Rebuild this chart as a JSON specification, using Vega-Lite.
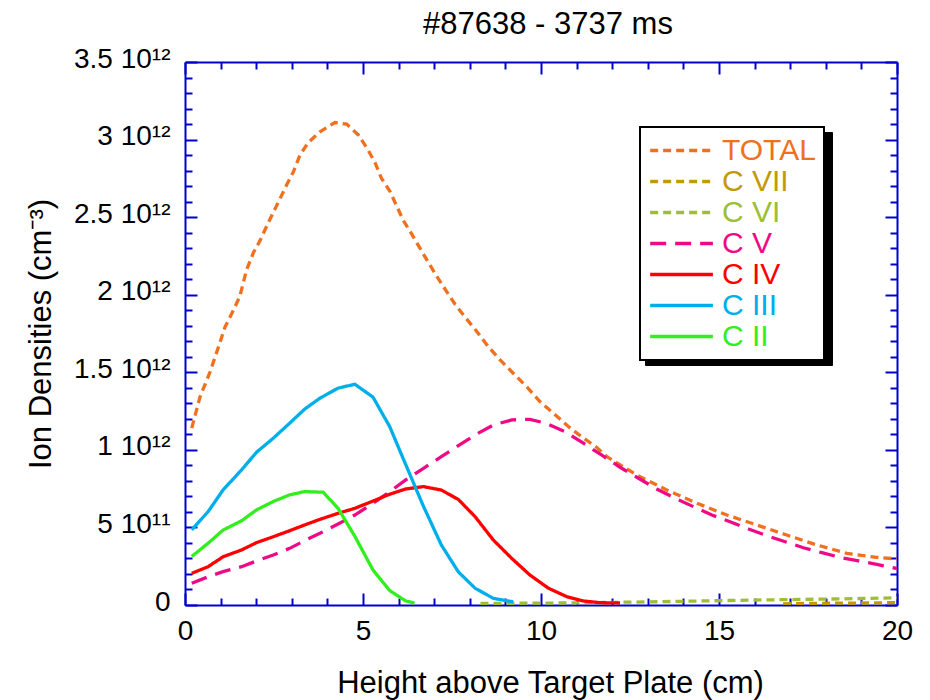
{
  "$schema": "https://vega.github.io/schema/vega-lite/v6.json",
  "width": 712,
  "height": 543,
  "autosize": {"type": "none"},
  "padding": {"left": 185, "top": 62, "right": 33, "bottom": 95},
  "title": {"text": "#87638 - 3737 ms", "frame": "group", "fontSize": 31, "font": "Liberation Sans", "fontWeight": "normal", "color": "black", "dx": 7, "offset": 4},
  "datasets": {
    "ions": [
      {"ion": "C VII", "x": 16.8, "n": 0.007e12}, {"ion": "C VII", "x": 17.5, "n": 0.010e12}, {"ion": "C VII", "x": 18.5, "n": 0.012e12}, {"ion": "C VII", "x": 19.5, "n": 0.014e12}, {"ion": "C VII", "x": 20, "n": 0.015e12},
      {"ion": "C VI", "x": 8.3, "n": 0.010e12}, {"ion": "C VI", "x": 9, "n": 0.011e12}, {"ion": "C VI", "x": 10, "n": 0.012e12}, {"ion": "C VI", "x": 11, "n": 0.014e12}, {"ion": "C VI", "x": 12, "n": 0.017e12}, {"ion": "C VI", "x": 13, "n": 0.020e12}, {"ion": "C VI", "x": 14, "n": 0.024e12}, {"ion": "C VI", "x": 15, "n": 0.028e12}, {"ion": "C VI", "x": 16, "n": 0.032e12}, {"ion": "C VI", "x": 17, "n": 0.035e12}, {"ion": "C VI", "x": 18, "n": 0.038e12}, {"ion": "C VI", "x": 19, "n": 0.042e12}, {"ion": "C VI", "x": 20, "n": 0.046e12},
      {"ion": "TOTAL", "x": 0.19, "n": 1.14e12}, {"ion": "TOTAL", "x": 0.42, "n": 1.34e12}, {"ion": "TOTAL", "x": 0.70, "n": 1.50e12}, {"ion": "TOTAL", "x": 0.98, "n": 1.69e12}, {"ion": "TOTAL", "x": 1.12, "n": 1.79e12}, {"ion": "TOTAL", "x": 1.36, "n": 1.90e12}, {"ion": "TOTAL", "x": 1.54, "n": 1.99e12}, {"ion": "TOTAL", "x": 1.73, "n": 2.16e12}, {"ion": "TOTAL", "x": 1.92, "n": 2.27e12}, {"ion": "TOTAL", "x": 2.11, "n": 2.35e12}, {"ion": "TOTAL", "x": 2.29, "n": 2.44e12}, {"ion": "TOTAL", "x": 2.48, "n": 2.53e12}, {"ion": "TOTAL", "x": 2.67, "n": 2.62e12}, {"ion": "TOTAL", "x": 2.86, "n": 2.71e12}, {"ion": "TOTAL", "x": 3.04, "n": 2.79e12}, {"ion": "TOTAL", "x": 3.23, "n": 2.90e12}, {"ion": "TOTAL", "x": 3.46, "n": 2.98e12}, {"ion": "TOTAL", "x": 3.79, "n": 3.05e12}, {"ion": "TOTAL", "x": 4.21, "n": 3.11e12}, {"ion": "TOTAL", "x": 4.54, "n": 3.10e12}, {"ion": "TOTAL", "x": 4.87, "n": 3.03e12}, {"ion": "TOTAL", "x": 5.15, "n": 2.93e12}, {"ion": "TOTAL", "x": 5.34, "n": 2.85e12}, {"ion": "TOTAL", "x": 5.52, "n": 2.75e12}, {"ion": "TOTAL", "x": 5.76, "n": 2.665e12}, {"ion": "TOTAL", "x": 5.95, "n": 2.57e12}, {"ion": "TOTAL", "x": 6.13, "n": 2.48e12}, {"ion": "TOTAL", "x": 6.37, "n": 2.39e12}, {"ion": "TOTAL", "x": 6.60, "n": 2.30e12}, {"ion": "TOTAL", "x": 6.83, "n": 2.21e12}, {"ion": "TOTAL", "x": 7.07, "n": 2.12e12}, {"ion": "TOTAL", "x": 7.35, "n": 2.02e12}, {"ion": "TOTAL", "x": 7.58, "n": 1.94e12}, {"ion": "TOTAL", "x": 7.87, "n": 1.855e12}, {"ion": "TOTAL", "x": 8.19, "n": 1.765e12}, {"ion": "TOTAL", "x": 8.52, "n": 1.665e12}, {"ion": "TOTAL", "x": 8.85, "n": 1.58e12}, {"ion": "TOTAL", "x": 9.22, "n": 1.494e12}, {"ion": "TOTAL", "x": 9.60, "n": 1.406e12}, {"ion": "TOTAL", "x": 9.97, "n": 1.311e12}, {"ion": "TOTAL", "x": 10.35, "n": 1.236e12}, {"ion": "TOTAL", "x": 10.77, "n": 1.15e12}, {"ion": "TOTAL", "x": 11.15, "n": 1.083e12}, {"ion": "TOTAL", "x": 11.56, "n": 1.017e12}, {"ion": "TOTAL", "x": 11.85, "n": 0.956e12}, {"ion": "TOTAL", "x": 12.69, "n": 0.838e12}, {"ion": "TOTAL", "x": 13.53, "n": 0.741e12}, {"ion": "TOTAL", "x": 14.38, "n": 0.656e12}, {"ion": "TOTAL", "x": 15.22, "n": 0.58e12}, {"ion": "TOTAL", "x": 16.06, "n": 0.516e12}, {"ion": "TOTAL", "x": 16.90, "n": 0.451e12}, {"ion": "TOTAL", "x": 17.75, "n": 0.387e12}, {"ion": "TOTAL", "x": 18.59, "n": 0.333e12}, {"ion": "TOTAL", "x": 19.43, "n": 0.307e12}, {"ion": "TOTAL", "x": 20.0, "n": 0.297e12},
      {"ion": "C V", "x": 0.19, "n": 0.14e12}, {"ion": "C V", "x": 0.65, "n": 0.182e12}, {"ion": "C V", "x": 1.07, "n": 0.215e12}, {"ion": "C V", "x": 1.59, "n": 0.247e12}, {"ion": "C V", "x": 2.01, "n": 0.284e12}, {"ion": "C V", "x": 2.48, "n": 0.322e12}, {"ion": "C V", "x": 2.94, "n": 0.365e12}, {"ion": "C V", "x": 3.36, "n": 0.415e12}, {"ion": "C V", "x": 3.79, "n": 0.462e12}, {"ion": "C V", "x": 4.30, "n": 0.522e12}, {"ion": "C V", "x": 4.77, "n": 0.58e12}, {"ion": "C V", "x": 5.28, "n": 0.656e12}, {"ion": "C V", "x": 5.75, "n": 0.73e12}, {"ion": "C V", "x": 6.20, "n": 0.806e12}, {"ion": "C V", "x": 6.70, "n": 0.881e12}, {"ion": "C V", "x": 7.20, "n": 0.956e12}, {"ion": "C V", "x": 7.70, "n": 1.03e12}, {"ion": "C V", "x": 8.15, "n": 1.096e12}, {"ion": "C V", "x": 8.66, "n": 1.16e12}, {"ion": "C V", "x": 9.18, "n": 1.193e12}, {"ion": "C V", "x": 9.69, "n": 1.197e12}, {"ion": "C V", "x": 10.16, "n": 1.17e12}, {"ion": "C V", "x": 10.68, "n": 1.117e12}, {"ion": "C V", "x": 11.19, "n": 1.043e12}, {"ion": "C V", "x": 11.70, "n": 0.967e12}, {"ion": "C V", "x": 12.22, "n": 0.888e12}, {"ion": "C V", "x": 12.74, "n": 0.817e12}, {"ion": "C V", "x": 13.25, "n": 0.748e12}, {"ion": "C V", "x": 13.77, "n": 0.688e12}, {"ion": "C V", "x": 14.28, "n": 0.634e12}, {"ion": "C V", "x": 14.80, "n": 0.58e12}, {"ion": "C V", "x": 15.31, "n": 0.537e12}, {"ion": "C V", "x": 15.83, "n": 0.49e12}, {"ion": "C V", "x": 16.34, "n": 0.447e12}, {"ion": "C V", "x": 16.86, "n": 0.408e12}, {"ion": "C V", "x": 17.37, "n": 0.369e12}, {"ion": "C V", "x": 17.89, "n": 0.337e12}, {"ion": "C V", "x": 18.40, "n": 0.307e12}, {"ion": "C V", "x": 18.92, "n": 0.284e12}, {"ion": "C V", "x": 19.43, "n": 0.262e12}, {"ion": "C V", "x": 20.0, "n": 0.235e12},
      {"ion": "C IV", "x": 0.19, "n": 0.204e12}, {"ion": "C IV", "x": 0.65, "n": 0.247e12}, {"ion": "C IV", "x": 1.07, "n": 0.311e12}, {"ion": "C IV", "x": 1.59, "n": 0.355e12}, {"ion": "C IV", "x": 2.01, "n": 0.402e12}, {"ion": "C IV", "x": 2.48, "n": 0.44e12}, {"ion": "C IV", "x": 2.94, "n": 0.479e12}, {"ion": "C IV", "x": 3.36, "n": 0.516e12}, {"ion": "C IV", "x": 3.79, "n": 0.552e12}, {"ion": "C IV", "x": 4.30, "n": 0.591e12}, {"ion": "C IV", "x": 4.77, "n": 0.623e12}, {"ion": "C IV", "x": 5.28, "n": 0.67e12}, {"ion": "C IV", "x": 5.75, "n": 0.714e12}, {"ion": "C IV", "x": 6.20, "n": 0.748e12}, {"ion": "C IV", "x": 6.70, "n": 0.763e12}, {"ion": "C IV", "x": 7.20, "n": 0.741e12}, {"ion": "C IV", "x": 7.68, "n": 0.68e12}, {"ion": "C IV", "x": 8.15, "n": 0.569e12}, {"ion": "C IV", "x": 8.66, "n": 0.419e12}, {"ion": "C IV", "x": 9.18, "n": 0.30e12}, {"ion": "C IV", "x": 9.69, "n": 0.193e12}, {"ion": "C IV", "x": 10.21, "n": 0.108e12}, {"ion": "C IV", "x": 10.72, "n": 0.054e12}, {"ion": "C IV", "x": 11.19, "n": 0.026e12}, {"ion": "C IV", "x": 11.66, "n": 0.015e12}, {"ion": "C IV", "x": 12.22, "n": 0.013e12},
      {"ion": "C III", "x": 0.19, "n": 0.484e12}, {"ion": "C III", "x": 0.65, "n": 0.602e12}, {"ion": "C III", "x": 1.07, "n": 0.742e12}, {"ion": "C III", "x": 1.59, "n": 0.871e12}, {"ion": "C III", "x": 2.01, "n": 0.985e12}, {"ion": "C III", "x": 2.48, "n": 1.075e12}, {"ion": "C III", "x": 2.94, "n": 1.172e12}, {"ion": "C III", "x": 3.36, "n": 1.262e12}, {"ion": "C III", "x": 3.79, "n": 1.333e12}, {"ion": "C III", "x": 4.30, "n": 1.398e12}, {"ion": "C III", "x": 4.77, "n": 1.423e12}, {"ion": "C III", "x": 5.28, "n": 1.34e12}, {"ion": "C III", "x": 5.75, "n": 1.15e12}, {"ion": "C III", "x": 6.20, "n": 0.905e12}, {"ion": "C III", "x": 6.70, "n": 0.635e12}, {"ion": "C III", "x": 7.20, "n": 0.387e12}, {"ion": "C III", "x": 7.68, "n": 0.213e12}, {"ion": "C III", "x": 8.15, "n": 0.108e12}, {"ion": "C III", "x": 8.66, "n": 0.043e12}, {"ion": "C III", "x": 9.22, "n": 0.02e12},
      {"ion": "C II", "x": 0.19, "n": 0.313e12}, {"ion": "C II", "x": 0.65, "n": 0.398e12}, {"ion": "C II", "x": 1.07, "n": 0.483e12}, {"ion": "C II", "x": 1.59, "n": 0.543e12}, {"ion": "C II", "x": 2.01, "n": 0.613e12}, {"ion": "C II", "x": 2.48, "n": 0.667e12}, {"ion": "C II", "x": 2.94, "n": 0.71e12}, {"ion": "C II", "x": 3.36, "n": 0.731e12}, {"ion": "C II", "x": 3.88, "n": 0.727e12}, {"ion": "C II", "x": 4.30, "n": 0.623e12}, {"ion": "C II", "x": 4.77, "n": 0.443e12}, {"ion": "C II", "x": 5.28, "n": 0.226e12}, {"ion": "C II", "x": 5.75, "n": 0.093e12}, {"ion": "C II", "x": 6.20, "n": 0.026e12}, {"ion": "C II", "x": 6.45, "n": 0.012e12}
    ]
  },
  "data": {"name": "ions"},
  "layer": [
    {
      "mark": {"type": "line", "strokeWidth": 3.3, "clip": true},
      "encoding": {
        "x": {
          "field": "x", "type": "quantitative",
          "scale": {"domain": [0, 20], "nice": false},
          "axis": {
            "orient": "bottom",
            "values": [0,1,2,3,4,5,6,7,8,9,10,11,12,13,14,15,16,17,18,19,20],
            "tickSize": {"condition": {"test": "datum.value % 5 === 0", "value": -12}, "value": -7},
            "tickColor": "#0000CC", "tickWidth": 2, "domainColor": "#0000CC", "domainWidth": 2,
            "labelExpr": "datum.value % 5 === 0 ? datum.label : ''",
            "labelFont": "Liberation Sans", "labelFontSize": 28, "labelColor": "black",
            "labelPadding": 24, "labelFlush": false, "labelOverlap": false, "grid": false,
            "title": "Height above Target Plate (cm)", "titleFont": "Liberation Sans", "titleFontSize": 31,
            "titleFontWeight": "normal", "titleColor": "black", "titlePadding": 18, "titleX": 365
          }
        },
        "y": {
          "field": "n", "type": "quantitative",
          "scale": {"domain": [0, 3500000000000], "nice": false},
          "axis": {
            "orient": "left",
            "values": [0,100000000000,200000000000,300000000000,400000000000,500000000000,600000000000,700000000000,800000000000,900000000000,1000000000000,1100000000000,1200000000000,1300000000000,1400000000000,1500000000000,1600000000000,1700000000000,1800000000000,1900000000000,2000000000000,2100000000000,2200000000000,2300000000000,2400000000000,2500000000000,2600000000000,2700000000000,2800000000000,2900000000000,3000000000000,3100000000000,3200000000000,3300000000000,3400000000000,3500000000000],
            "tickSize": {"condition": {"test": "datum.value % 500000000000 === 0", "value": -12}, "value": -7},
            "tickColor": "#0000CC", "tickWidth": 2, "domainColor": "#0000CC", "domainWidth": 2,
            "labelExpr": "datum.value === 0 ? '0' : datum.value === 500000000000 ? '5 10¹¹' : datum.value % 500000000000 === 0 ? (datum.value / 1000000000000) + ' 10¹²' : ''",
            "labelFont": "Liberation Sans", "labelFontSize": 28, "labelColor": "black",
            "labelPadding": 27, "labelOffset": -3, "labelFlush": false, "labelOverlap": false, "grid": false,
            "title": "Ion Densities (cm⁻³)", "titleFont": "Liberation Sans", "titleFontSize": 31,
            "titleFontWeight": "normal", "titleColor": "black", "titlePadding": 16
          }
        },
        "color": {
          "field": "ion", "type": "nominal",
          "scale": {"domain": ["TOTAL", "C VII", "C VI", "C V", "C IV", "C III", "C II"], "range": ["#F07020", "#C39A05", "#9DBE35", "#EE0A86", "#FF0000", "#00AEEA", "#33EE1E"]},
          "legend": {
            "legendX": 455, "legendY": 65, "zindex": 2,
            "strokeColor": "black", "fillColor": "white",
            "encode": {"labels": {"update": {"fill": {"scale": "color", "field": "value"}}}, "legend": {"update": {"strokeWidth": {"value": 2}}}}
          }
        },
        "strokeDash": {
          "field": "ion", "type": "nominal",
          "scale": {"domain": ["TOTAL", "C VII", "C VI", "C V", "C IV", "C III", "C II"], "range": [[8, 5], [8, 5], [8, 5], [16, 9], [1, 0], [1, 0], [1, 0]]},
          "legend": {
            "legendX": 455, "legendY": 65, "zindex": 2,
            "strokeColor": "black", "fillColor": "white",
            "encode": {"labels": {"update": {"fill": {"scale": "color", "field": "value"}}}, "legend": {"update": {"strokeWidth": {"value": 2}}}}
          }
        }
      }
    },
    {
      "mark": {"type": "point", "opacity": 0},
      "encoding": {
        "x": {
          "field": "x", "type": "quantitative",
          "axis": {
            "orient": "top",
            "values": [0,1,2,3,4,5,6,7,8,9,10,11,12,13,14,15,16,17,18,19,20],
            "tickSize": {"condition": {"test": "datum.value % 5 === 0", "value": -12}, "value": -7},
            "tickColor": "#0000CC", "tickWidth": 2, "domainColor": "#0000CC", "domainWidth": 2,
            "labels": false, "grid": false, "title": null
          }
        },
        "y": {
          "field": "n", "type": "quantitative",
          "axis": {
            "orient": "right",
            "values": [0,100000000000,200000000000,300000000000,400000000000,500000000000,600000000000,700000000000,800000000000,900000000000,1000000000000,1100000000000,1200000000000,1300000000000,1400000000000,1500000000000,1600000000000,1700000000000,1800000000000,1900000000000,2000000000000,2100000000000,2200000000000,2300000000000,2400000000000,2500000000000,2600000000000,2700000000000,2800000000000,2900000000000,3000000000000,3100000000000,3200000000000,3300000000000,3400000000000,3500000000000],
            "tickSize": {"condition": {"test": "datum.value % 500000000000 === 0", "value": -12}, "value": -7},
            "tickColor": "#0000CC", "tickWidth": 2, "domainColor": "#0000CC", "domainWidth": 2,
            "labels": false, "grid": false, "title": null
          }
        },
        "shape": {
          "field": "ion", "type": "nominal",
          "scale": {"domain": ["C II", "C III", "C IV", "C V", "C VI", "C VII", "TOTAL"], "range": ["M-1,0H3.7", "M-1,0H3.7", "M-1,0H3.7", "M-1,0H3.7", "M-1,0H3.7", "M-1,0H3.7", "M-1,0H3.7"]},
          "legend": {
            "legendX": 460, "legendY": 70, "zindex": 1,
            "strokeColor": "black", "fillColor": "black",
            "labelExpr": "''", "labelOffset": 140
          }
        }
      }
    }
  ],
  "resolve": {"axis": {"x": "independent", "y": "independent"}},
  "config": {
    "view": {"stroke": null},
    "font": "Liberation Sans",
    "legend": {
      "orient": "none", "title": null, "padding": 8,
      "symbolType": "M-1,0H3.7", "symbolSize": 713, "symbolStrokeWidth": 3.3,
      "labelFont": "Liberation Sans", "labelFontSize": 30, "labelOffset": 43, "rowPadding": -1, "labelLimit": 300
    }
  }
}
